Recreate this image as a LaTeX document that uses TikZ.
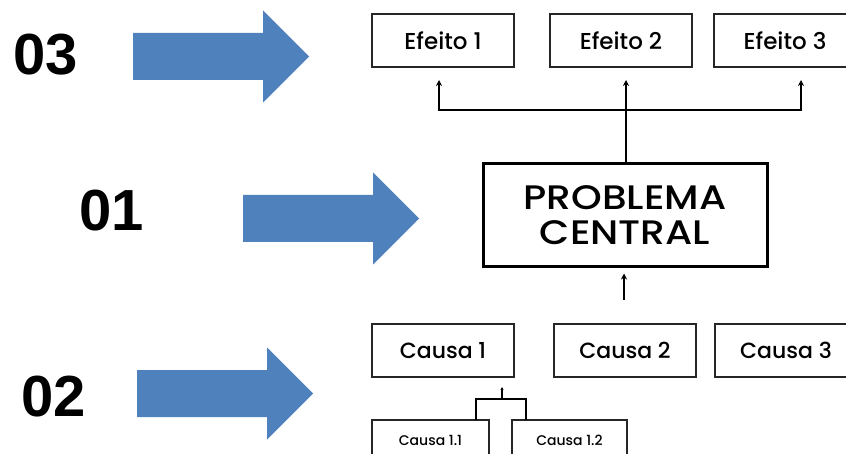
\documentclass[tikz,border=0pt]{standalone}
\usepackage{fontspec}
\newfontfamily\boxfont{Poppins Medium}
\newfontfamily\probfont{Poppins Medium}[FakeStretch=1.15]
\newfontfamily\numfont{Liberation Sans}
\usetikzlibrary{arrows.meta}
\definecolor{setaazul}{RGB}{79,129,189}

\begin{document}
\begin{tikzpicture}[x=1pt,y=-1pt,
caixa/.style={draw=black!85,line width=1.3pt,inner sep=0pt,minimum width=142pt,minimum height=53pt,font=\boxfont\fontsize{22}{24}\selectfont},
subcaixa/.style={draw=black!85,line width=1.3pt,inner sep=0pt,minimum height=40pt,font=\boxfont\fontsize{14}{16}\selectfont},
numero/.style={font=\numfont\bfseries\fontsize{58}{60}\selectfont},
liga/.style={line width=2pt},
seta/.style={liga,-{Stealth[length=6pt,width=6pt]}}]
\useasboundingbox (0,0) rectangle (846,454);
\clip (0,0) rectangle (846,454);
% setas azuis
\foreach \x/\y in {133/56.5,243/218.5,137/393.5}
  \fill[setaazul] (\x,\y-23.5) -- ++(130,0) -- ++(0,-22.5) -- ++(46,46)
    -- ++(-46,46) -- ++(0,-22.5) -- ++(-130,0) -- cycle;
\node[numero] (n3) at (46,55) {03};
\node[numero] (n1) at (112,211) {01};
\node[numero] (n2) at (54,397) {02};
% problema
\node[draw,line width=3pt,minimum width=284pt,minimum height=103pt,align=center,
  font=\probfont\fontsize{34}{35}\selectfont] (prob) at (625,215.5) {PROBLEMA\\CENTRAL};
% efeitos
\node[caixa,font=\boxfont\fontsize{23}{25}\selectfont] (ef1) at (443,40.5) {Efeito 1};
\node[caixa,font=\boxfont\fontsize{23}{25}\selectfont] (ef2) at (621,40.5) {Efeito 2};
\node[caixa,font=\boxfont\fontsize{23}{25}\selectfont] (ef3) at (785,40.5) {Efeito 3};
\coordinate (hub) at (626,110);
\coordinate (t1) at (439,80);
\coordinate (t2) at (626,80);
\coordinate (t3) at (801,80);
\draw[liga] (prob.north -| hub) -- (hub);
\draw[seta] (hub) -| (t1);
\draw[seta] (hub) -- (t2);
\draw[seta] (hub) -| (t3);
% causas
\node[caixa] (ca1) at (443,350.5) {Causa 1};
\node[caixa] (ca2) at (625,350.5) {Causa 2};
\node[caixa] (ca3) at (786,350.5) {Causa 3};
\coordinate (pe) at (624,300);
\draw[seta] (pe) -- ([yshift=-5pt]prob.south -| pe);
\node[subcaixa,minimum width=117pt] (ca11) at (430.5,440) {Causa 1.1};
\node[subcaixa,minimum width=115pt] (ca12) at (569.5,440) {Causa 1.2};
\coordinate (s1) at (476,420);
\coordinate (s2) at (526,420);
\coordinate (sm) at (502,399);
\draw[line width=1.5pt] (s1) |- (sm) -| (s2);
\draw[line width=1.2pt,-{Stealth[length=3pt,width=3pt]}] (sm) -- ++(0,-12);
\end{tikzpicture}
\end{document}
